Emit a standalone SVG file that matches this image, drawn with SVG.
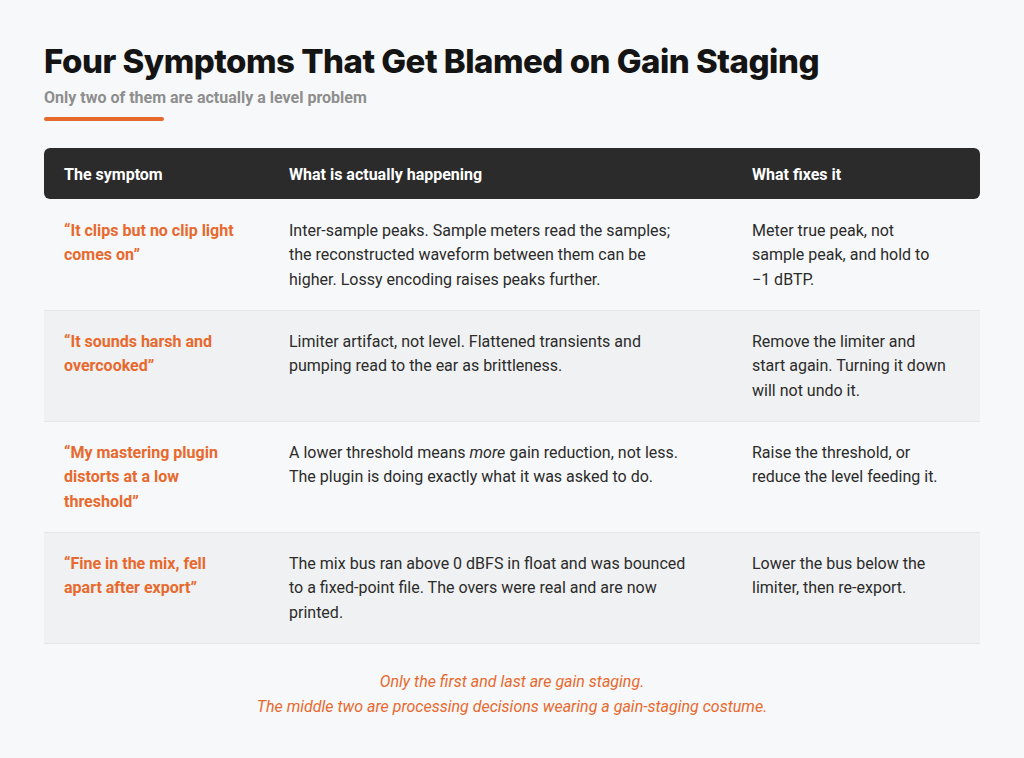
<svg xmlns="http://www.w3.org/2000/svg" width="1024" height="758" viewBox="0 0 1024 758">
<style>
.t{font-family:Inter,"Liberation Sans",sans-serif;font-weight:800;font-size:33px;fill:#141414;letter-spacing:-0.5px}
.s{font-family:Roboto,"Liberation Sans",sans-serif;font-weight:700;font-size:16px;fill:#8e8e8e}
.h{font-family:Roboto,"Liberation Sans",sans-serif;font-weight:700;font-size:16px;fill:#fff}
.q{font-family:Roboto,"Liberation Sans",sans-serif;font-weight:700;font-size:16px;fill:#e8692e}
.b{font-family:Roboto,"Liberation Sans",sans-serif;font-size:16px;fill:#2b2b2b}
.f{font-family:Roboto,"Liberation Sans",sans-serif;font-style:italic;font-size:16px;fill:#e8692e}
.line{stroke:#e6e6e6;stroke-width:1}
</style>
<rect width="1024" height="758" fill="#f7f8f9"/>
<text class="t" x="44" y="73">Four Symptoms That Get Blamed on Gain Staging</text>
<text class="s" x="44" y="103">Only two of them are actually a level problem</text>
<rect x="44" y="117" width="120" height="4" rx="2" fill="#e8692e"/>
<g id="header">
<rect x="44" y="148" width="936" height="51" rx="6" fill="#2b2b2b"/>
<text class="h" x="64" y="180">The symptom</text>
<text class="h" x="289" y="180">What is actually happening</text>
<text class="h" x="752" y="180">What fixes it</text>
</g>
<g id="row1">
<text class="q" x="64" y="236">“It clips but no clip light</text>
<text class="q" x="64" y="260">comes on”</text>
<text class="b" x="289" y="236">Inter-sample peaks. Sample meters read the samples;</text>
<text class="b" x="289" y="260">the reconstructed waveform between them can be</text>
<text class="b" x="289" y="285">higher. Lossy encoding raises peaks further.</text>
<text class="b" x="752" y="236">Meter true peak, not</text>
<text class="b" x="752" y="260">sample peak, and hold to</text>
<text class="b" x="752" y="285">−1 dBTP.</text>
</g>
<g id="row2">
<rect x="44" y="310" width="936" height="111" fill="#f0f1f2"/>
<text class="q" x="64" y="347">“It sounds harsh and</text>
<text class="q" x="64" y="371">overcooked”</text>
<text class="b" x="289" y="347">Limiter artifact, not level. Flattened transients and</text>
<text class="b" x="289" y="371">pumping read to the ear as brittleness.</text>
<text class="b" x="752" y="347">Remove the limiter and</text>
<text class="b" x="752" y="371">start again. Turning it down</text>
<text class="b" x="752" y="396">will not undo it.</text>
</g>
<g id="row3">
<text class="q" x="64" y="458">“My mastering plugin</text>
<text class="q" x="64" y="482">distorts at a low</text>
<text class="q" x="64" y="507">threshold”</text>
<text class="b" x="289" y="458">A lower threshold means <tspan font-style="italic">more</tspan> gain reduction, not less.</text>
<text class="b" x="289" y="482">The plugin is doing exactly what it was asked to do.</text>
<text class="b" x="752" y="458">Raise the threshold, or</text>
<text class="b" x="752" y="482">reduce the level feeding it.</text>
</g>
<g id="row4">
<rect x="44" y="532" width="936" height="111" fill="#f0f1f2"/>
<text class="q" x="64" y="569">“Fine in the mix, fell</text>
<text class="q" x="64" y="593">apart after export”</text>
<text class="b" x="289" y="569">The mix bus ran above 0 dBFS in float and was bounced</text>
<text class="b" x="289" y="593">to a fixed-point file. The overs were real and are now</text>
<text class="b" x="289" y="618">printed.</text>
<text class="b" x="752" y="569">Lower the bus below the</text>
<text class="b" x="752" y="593">limiter, then re-export.</text>
</g>
<g id="connectors">
<line class="line" x1="44" y1="310.5" x2="980" y2="310.5"/>
<line class="line" x1="44" y1="421.5" x2="980" y2="421.5"/>
<line class="line" x1="44" y1="532.5" x2="980" y2="532.5"/>
<line class="line" x1="44" y1="643.5" x2="980" y2="643.5"/>
</g>
<text class="f" x="512" y="687" text-anchor="middle">Only the first and last are gain staging.</text>
<text class="f" x="512" y="712" text-anchor="middle">The middle two are processing decisions wearing a gain-staging costume.</text>
</svg>
